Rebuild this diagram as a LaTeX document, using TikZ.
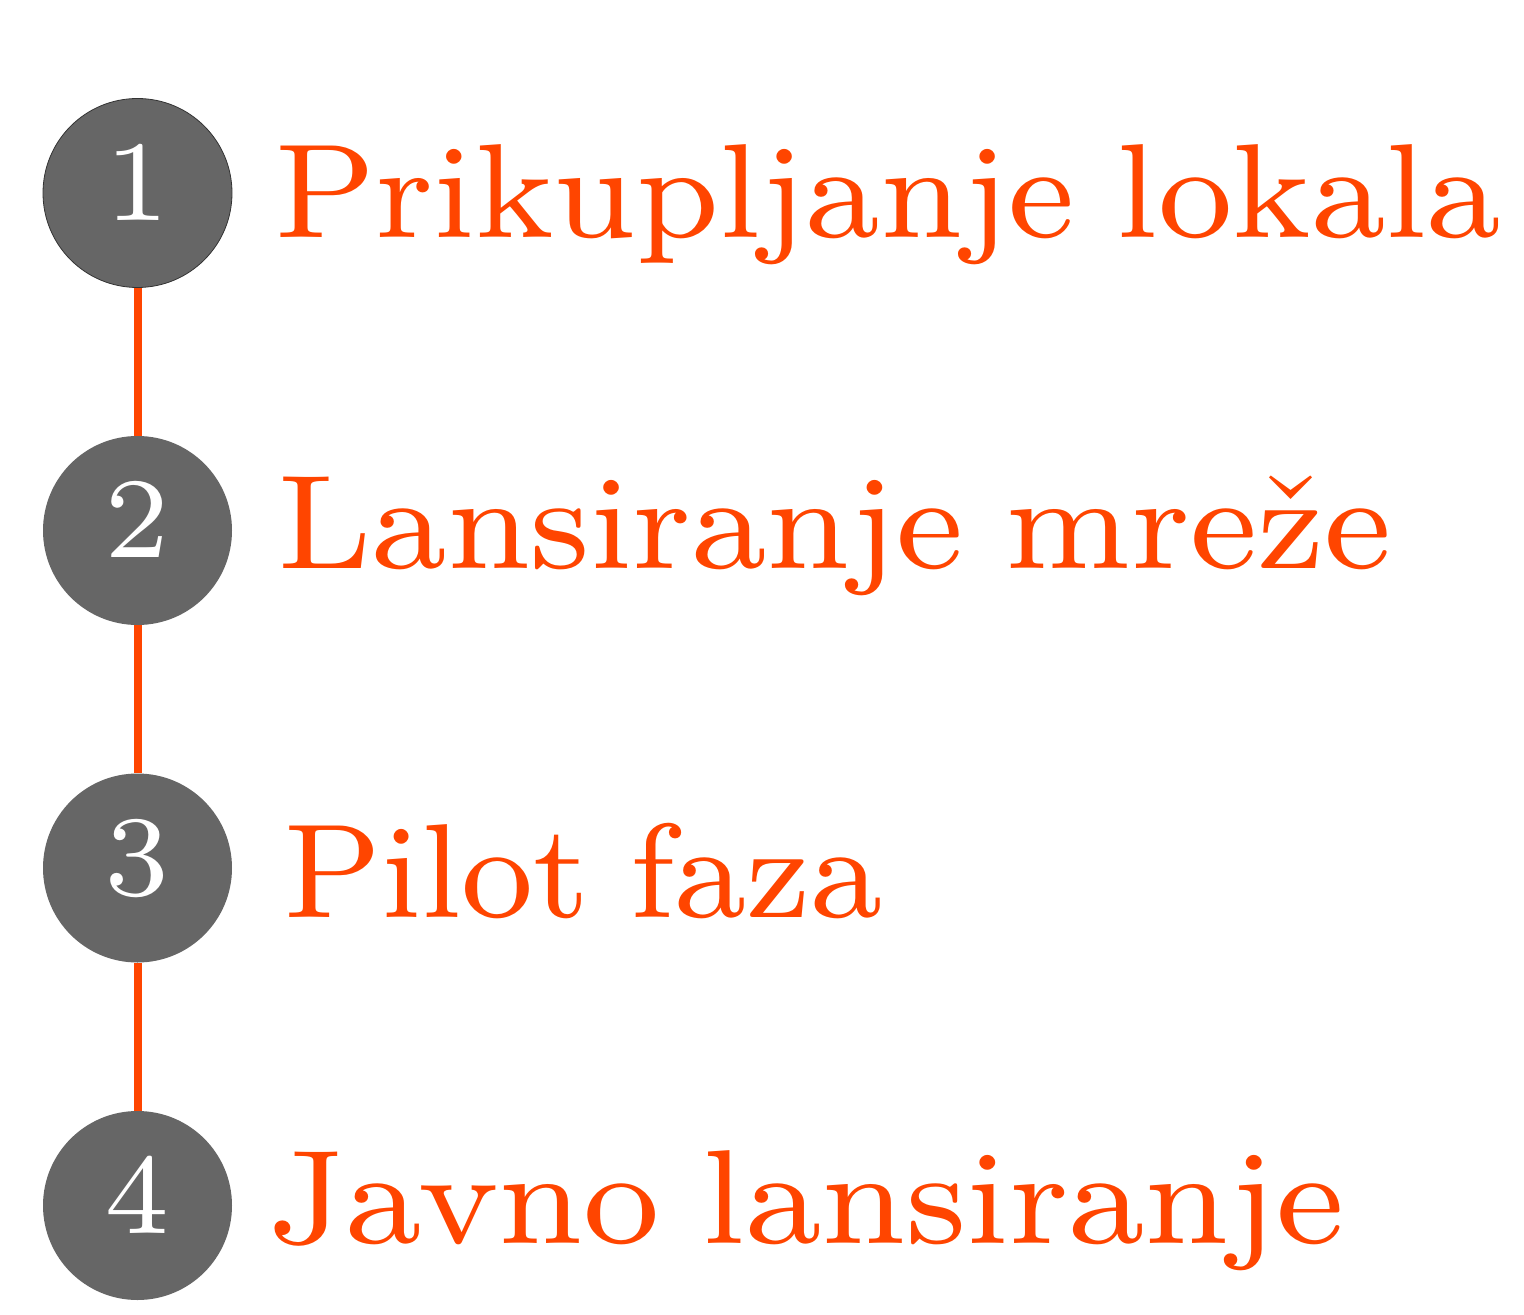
\documentclass[tikz,border=0pt]{standalone}
\usepackage{graphicx}
\usepackage{fontspec}
\definecolor{stepgray}{HTML}{666666}
\definecolor{steporange}{HTML}{FF4500}
\newsavebox{\fitbox}
\newcommand{\fitlabel}[2]{\sbox{\fitbox}{\fontsize{8}{9}\selectfont\spaceskip=0.3em\relax #2}%
  \pgfmathsetmacro{\fitsx}{#1/\the\wd\fitbox}%
  \scalebox{\fitsx}[8.37]{\usebox{\fitbox}}}
\newcommand{\bignum}[1]{\scalebox{8.2}{\fontsize{7}{8}\selectfont #1}}
\begin{document}
\begin{tikzpicture}[x=0.5pt,y=-0.5pt,
  stepcircle/.style={circle,fill=stepgray,minimum size=94.5pt,inner sep=0pt,text=white,text depth=11pt},
  steplabel/.style={anchor=base west,inner sep=0pt,text=steporange},
  steplink/.style={draw=steporange,line width=4pt}]
\useasboundingbox (0,0) rectangle (1524,1315);
\node[stepcircle,draw=black!80,line width=0.4pt] (c1) at (137.5,193) {\bignum{1}};
\node[stepcircle] (c2) at (137.5,530.5) {\bignum{2}};
\node[stepcircle] (c3) at (137.5,868) {\bignum{3}};
\node[stepcircle] (c4) at (137.5,1205.5) {\bignum{4}};
\draw[steplink] (c1) -- (c2);
\draw[steplink] (c2) -- (c3);
\draw[steplink] (c3) -- (c4);
\node[steplabel] (t1) at (274,238) {\fitlabel{613.5}{Prikupljanje lokala}};
\node[steplabel] (t2) at (277,568) {\fitlabel{557}{Lansiranje mreže}};
\node[steplabel] (t3) at (283,917) {\fitlabel{299.5}{Pilot faza}};
\node[steplabel] (t4) at (267,1243) {\fitlabel{538.5}{Javno lansiranje}};
\end{tikzpicture}
\end{document}
